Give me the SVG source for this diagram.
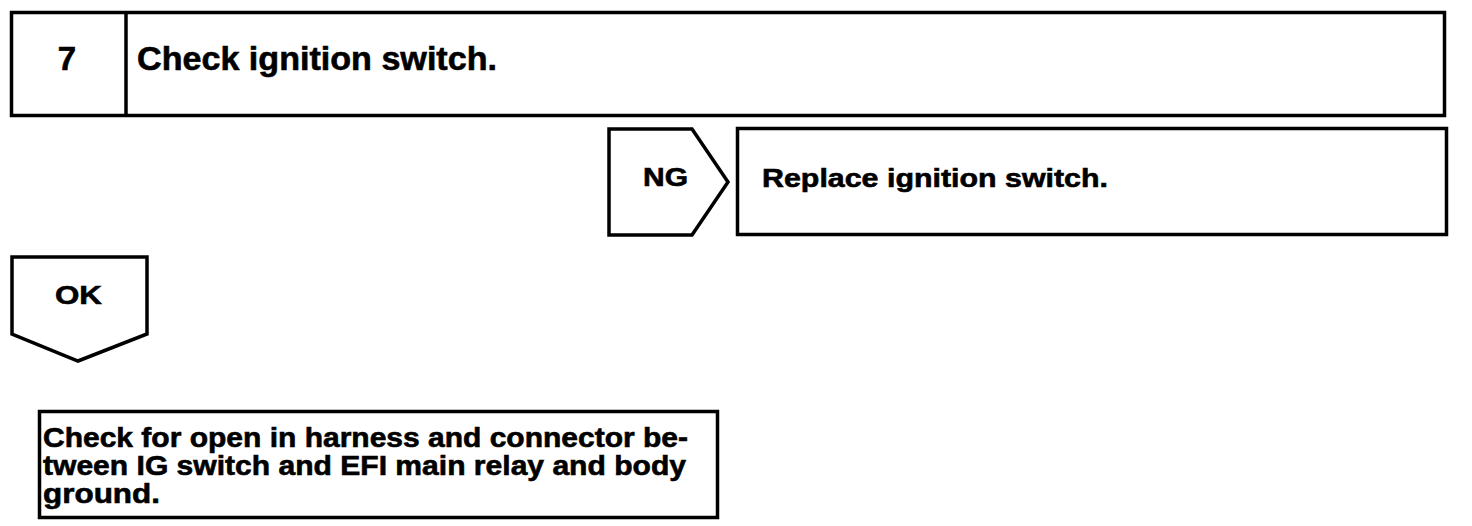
<svg xmlns="http://www.w3.org/2000/svg" width="1472" height="526" viewBox="0 0 1472 526">
<style>
.box{fill:#fff;stroke:#000;stroke-width:3.5;stroke-linejoin:miter}
.t{font-family:"Liberation Sans",Arial,sans-serif;font-weight:bold;fill:#000;stroke:#000;stroke-width:0.6}
.big{font-size:33px}
.mid{font-size:26px}
.body{font-size:27px}
</style>
<rect width="1472" height="526" fill="#fff"/>
<g id="step7">
<rect class="box" x="11.5" y="12.5" width="1433" height="103"/>
<line x1="126" y1="12.5" x2="126" y2="115.5" stroke="#000" stroke-width="3.5"/>
<text class="t big" x="67" y="70" text-anchor="middle">7</text>
<text class="t big" x="137" y="70" textLength="360" lengthAdjust="spacingAndGlyphs">Check ignition switch.</text>
</g>
<g id="ng">
<polygon class="box" points="609,129 692,129 728,182 692,235 609,235"/>
<text class="t mid" x="643" y="186" textLength="45" lengthAdjust="spacingAndGlyphs">NG</text>
</g>
<g id="replace">
<rect class="box" x="737.5" y="128.5" width="709" height="106"/>
<text class="t mid" x="762" y="187" textLength="346" lengthAdjust="spacingAndGlyphs">Replace ignition switch.</text>
</g>
<g id="ok">
<polygon class="box" points="12,257 147,257 147,334 78,361 12,334"/>
<text class="t mid" x="55" y="304" textLength="47" lengthAdjust="spacingAndGlyphs">OK</text>
</g>
<g id="check-open">
<rect class="box" x="39.5" y="411.5" width="678" height="106"/>
<text class="t body" x="43" y="447" textLength="645" lengthAdjust="spacingAndGlyphs">Check for open in harness and connector be-</text>
<text class="t body" x="43" y="475" textLength="643" lengthAdjust="spacingAndGlyphs">tween IG switch and EFI main relay and body</text>
<text class="t body" x="43" y="503" textLength="117" lengthAdjust="spacingAndGlyphs">ground.</text>
</g>
<g id="connectors"/>
</svg>
